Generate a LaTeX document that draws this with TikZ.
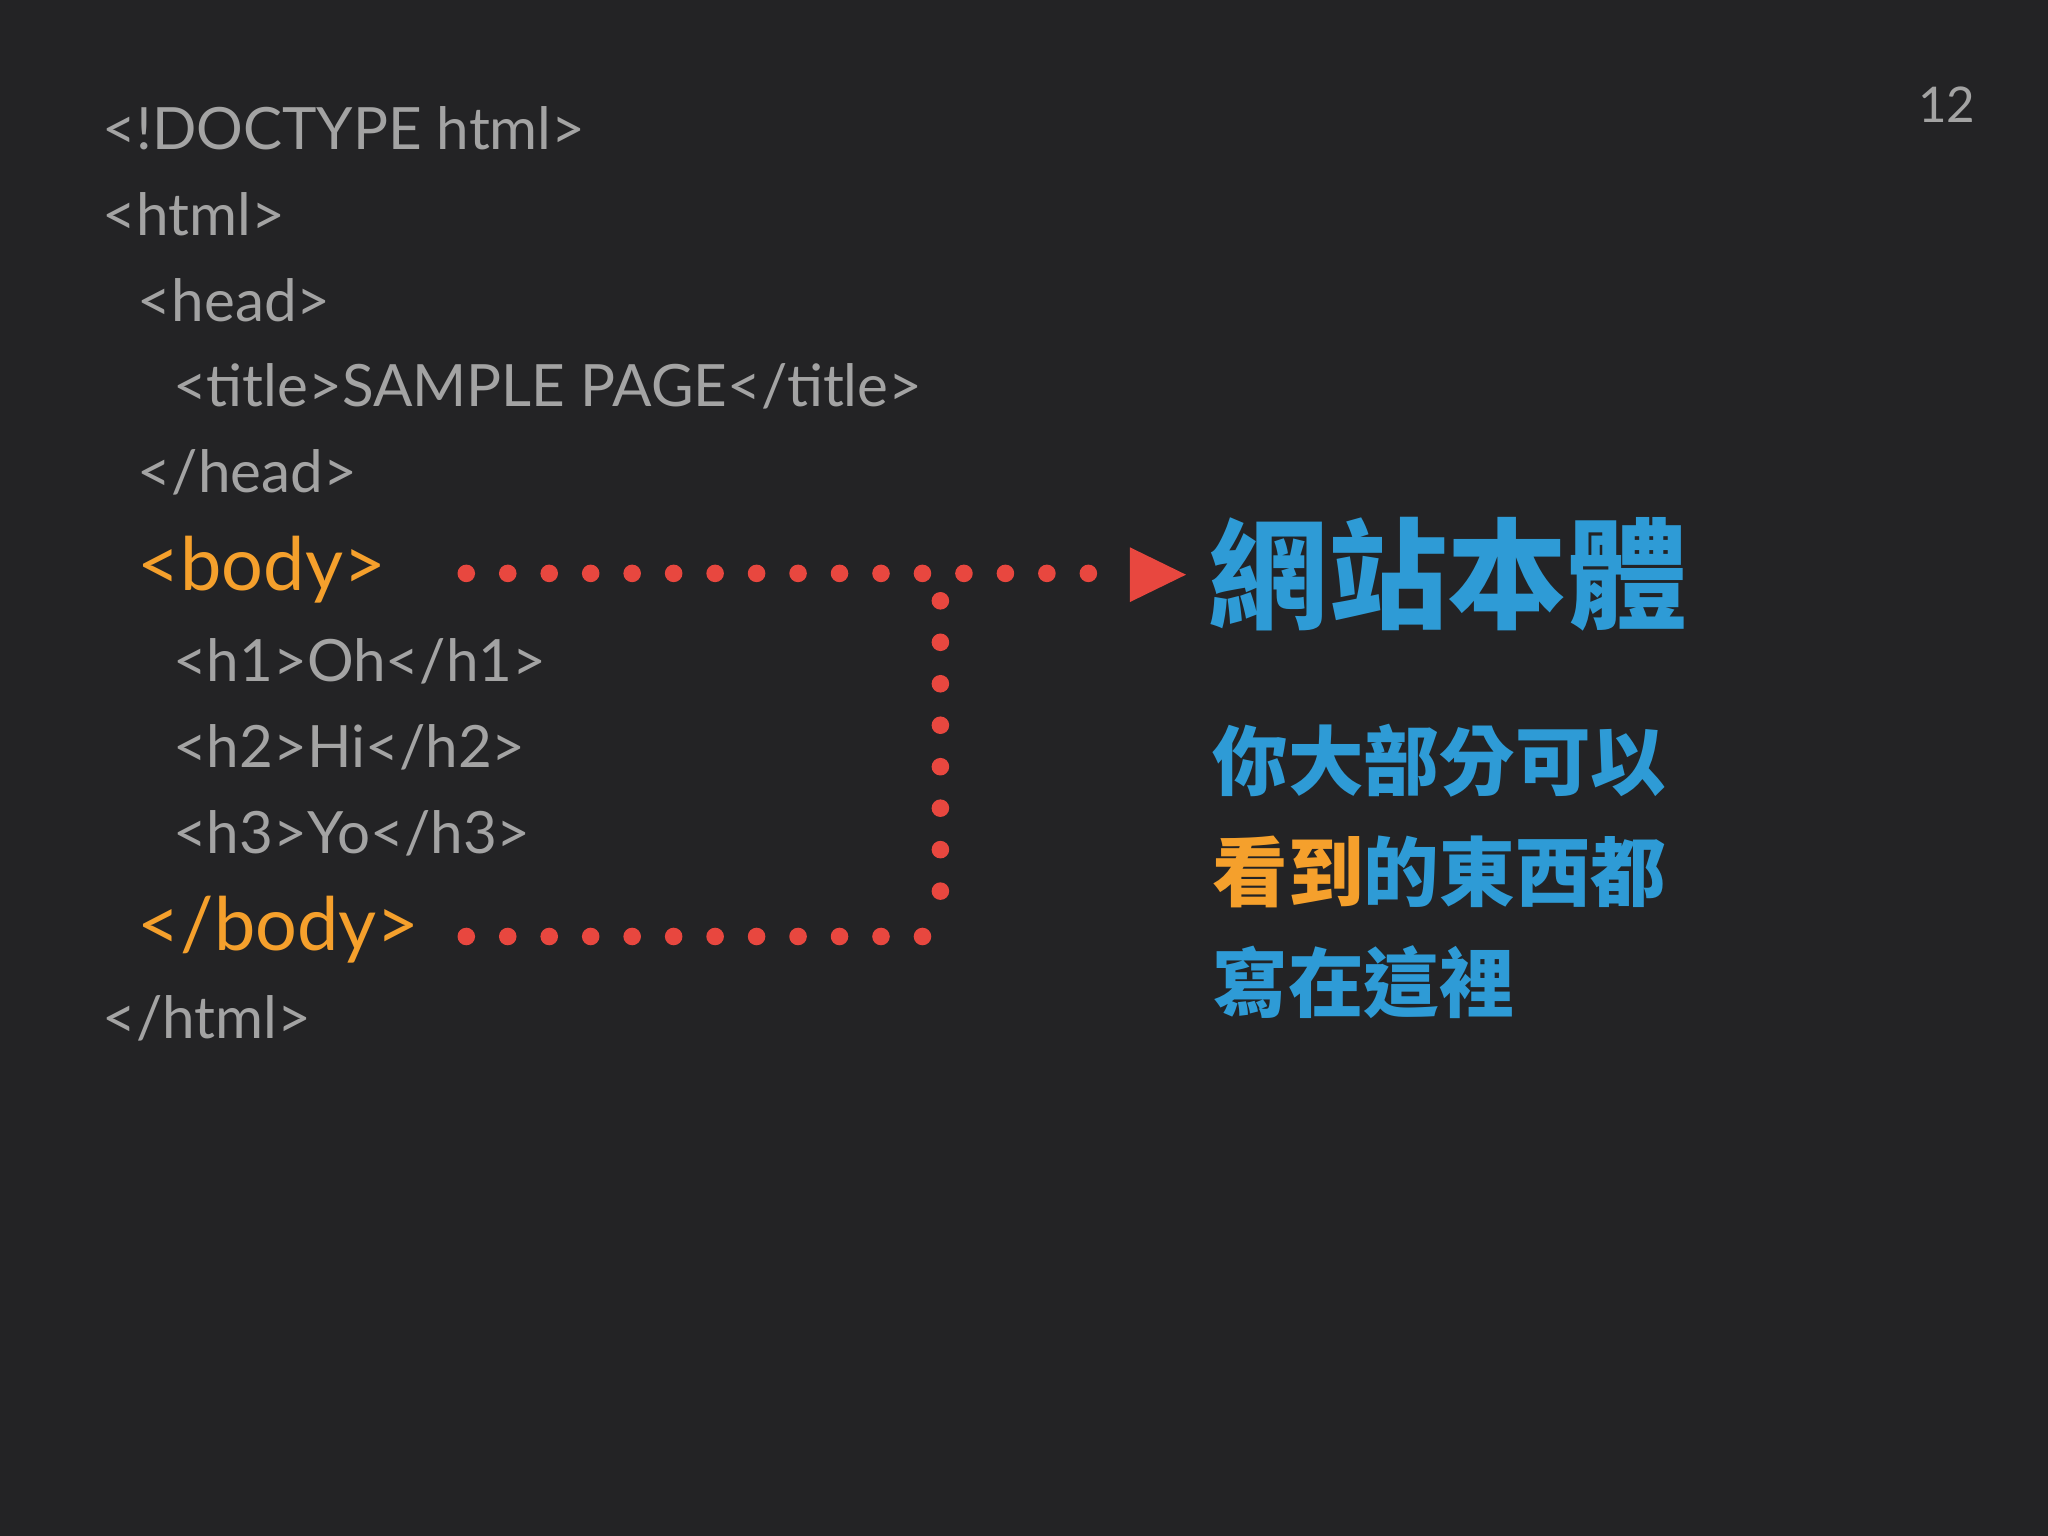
\documentclass[tikz,border=0pt]{standalone}
\usepackage{fontspec}
\setmainfont{Lato}
\newfontfamily\cjk{Noto Sans CJK TC}
\usetikzlibrary{positioning}
\definecolor{bg}{HTML}{232325}
\definecolor{code}{HTML}{A3A3A3}
\definecolor{tagorange}{HTML}{F5A02C}
\definecolor{dotred}{HTML}{E8473F}
\definecolor{titleblue}{HTML}{2E9BD6}
\tikzset{
  codeline/.style={anchor=west,inner sep=0pt,text=code,font=\fontsize{16.6}{20}\selectfont},
  bodytag/.style={anchor=west,inner sep=0pt,text=tagorange,font=\fontsize{21}{25}\selectfont},
  dotline/.style={dotred,line width=5pt,line cap=round,dash pattern=on 0pt off 11.8pt},
}
\begin{document}
\begin{tikzpicture}[x=0.01306cm,y=-0.01306cm]
                %\draw[help lines] (0,0) grid (1568,1176);
                \fill[bg] (0,0) rectangle (1568,1176);
                \node[codeline] (doctype) at (78,98) {<!DOCTYPE html>};
                \node[codeline] (html) at (78,164) {<html>};
                \node[codeline] (head) at (105,230) {<head>};
                \node[codeline] (title) at (132,296) {<title>SAMPLE PAGE</title>};
                \node[codeline] (headend) at (105,362) {</head>};
                \node[bodytag] (body) at (105,436) {<body>};
                \node[codeline] (hone) at (132,506) {<h1>Oh</h1>};
                \node[codeline] (htwo) at (132,572) {<h2>Hi</h2>};
                \node[codeline] (hthree) at (132,638) {<h3>Yo</h3>};
                \node[bodytag] (bodyend) at (105,712) {</body>};
                \node[codeline] (htmlend) at (78,780) {</html>};
                \node[anchor=east,inner sep=0pt,text=code,font=\fontsize{14}{16}\selectfont] (page) at (1513,80) {12};
                \node[anchor=west,inner sep=0pt,text=titleblue,font=\cjk\bfseries\fontsize{34}{38}\selectfont] (main) at (925,440) {網站本體};
                \node[anchor=north west,inner sep=0pt,text=titleblue,align=left,font=\cjk\bfseries\fontsize{21.5}{31.5}\selectfont] (desc) at (928,554)
                  {你大部分可以\\{\color{tagorange}看到}的東西都\\寫在這裡};
                \coordinate (ds) at (357,439);
                \coordinate (tip) at (865,439);
                \coordinate (vs) at (720,460);
                \coordinate (ve) at (720,686);
                \coordinate (bs) at (357,717);
                \coordinate (be) at (712,717);
                \draw[dotline] (ds) -- (tip);
                \draw[dotline] (vs) -- (ve);
                \draw[dotline] (bs) -- (be);
                \fill[dotred] (865,419) -- (908,440) -- (865,461) -- cycle;
            \end{tikzpicture}
\end{document}
